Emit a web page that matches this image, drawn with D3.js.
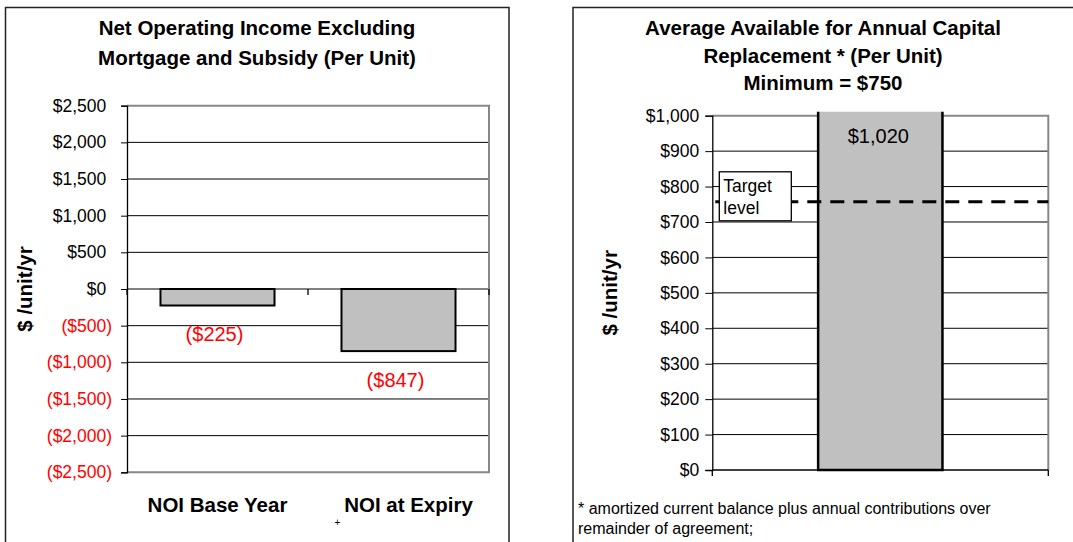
<!DOCTYPE html>
<html>
<head>
<meta charset="utf-8">
<script src="https://cdn.jsdelivr.net/npm/d3@7"></script>
<style>
  body { margin: 0; background: #fff; }
  svg { display: block; font-family: Arial, "Liberation Sans", sans-serif; }
</style>
</head>
<body>
<div id="chart"></div>
<script>
// left chart data
const noiCategories = ["NOI Base Year", "NOI at Expiry"];
const noiValues = [-225, -847];
const noiTicks = [-2500, -2000, -1500, -1000, -500, 0, 500, 1000, 1500, 2000, 2500];

// right chart data
const capCategories = ["Capital Replacement"];
const capValues = [1020];
const capTicks = [0, 100, 200, 300, 400, 500, 600, 700, 800, 900, 1000];
const targetLevel = 757;

const FONT = 'Arial, "Liberation Sans", sans-serif';
const fmtNum = d3.format(",");
const money = v => v < 0 ? "($" + fmtNum(-v) + ")" : "$" + fmtNum(v);

const svg = d3.select("#chart").append("svg")
    .attr("width", 1073)
    .attr("height", 542);

// panel frames
svg.append("rect")
    .attr("x", 5.5).attr("y", 7.5)
    .attr("width", 503.5).attr("height", 560)
    .attr("fill", "none").attr("stroke", "#222").attr("stroke-width", 1.5);
svg.append("rect")
    .attr("x", 573).attr("y", 7.5)
    .attr("width", 530).attr("height", 560)
    .attr("fill", "none").attr("stroke", "#222").attr("stroke-width", 1.5);

// ---------- left chart ----------
const L = { left: 127, right: 489, top: 105.7, bottom: 472.3 };
const yL = d3.scaleLinear().domain([-2500, 2500]).range([L.bottom, L.top]);
const xL = d3.scaleBand().domain(noiCategories).range([L.left, L.right])
    .paddingInner(0.37).paddingOuter(0.185);
const noiData = noiCategories.map((c, i) => ({ cat: c, value: noiValues[i] }));

const gl = svg.append("g");

// title
gl.append("text")
    .attr("text-anchor", "middle").attr("font-weight", "bold").attr("font-size", 20.5)
    .selectAll("tspan")
    .data(["Net Operating Income Excluding", "Mortgage and Subsidy (Per Unit)"])
    .join("tspan")
      .attr("x", 257)
      .attr("y", (d, i) => 34.5 + i * 30)
      .text(d => d);

// gridlines
gl.append("g")
  .selectAll("line")
  .data(noiTicks.filter(t => t > -2500 && t < 2500))
  .join("line")
    .attr("x1", L.left).attr("x2", L.right)
    .attr("y1", d => yL(d)).attr("y2", d => yL(d))
    .attr("stroke", "#000").attr("stroke-width", 1);

// plot frame (gray)
gl.append("path")
    .attr("d", `M${L.left},${L.top}H${L.right}V${L.bottom}H${L.left}`)
    .attr("fill", "none").attr("stroke", "#888").attr("stroke-width", 2);

// bars
gl.append("g")
  .selectAll("rect")
  .data(noiData)
  .join("rect")
    .attr("x", d => xL(d.cat))
    .attr("width", xL.bandwidth())
    .attr("y", d => yL(Math.max(0, d.value)))
    .attr("height", d => Math.abs(yL(d.value) - yL(0)))
    .attr("fill", "#c0c0c0")
    .attr("stroke", "#000")
    .attr("stroke-width", 2);

// y axis
const axL = gl.append("g")
    .attr("transform", `translate(${L.left},0)`)
    .call(d3.axisLeft(yL).tickValues(noiTicks).tickSize(6).tickPadding(9).tickFormat(money));
axL.attr("font-family", FONT).attr("font-size", 17.5);
axL.select(".domain").attr("stroke", "#000").attr("stroke-width", 1.3);
axL.selectAll(".tick line").attr("stroke", "#000");
axL.selectAll(".tick text")
    .attr("fill", d => d < 0 ? "#ff0000" : "#000")
    .attr("dx", d => d < 0 ? 0 : -5.8);

// x axis ticks at category boundaries on the zero line
const boundsL = d3.range(noiCategories.length + 1).map(i => L.left + i * xL.step());
gl.append("g")
  .selectAll("line")
  .data(boundsL)
  .join("line")
    .attr("x1", d => d).attr("x2", d => d)
    .attr("y1", yL(0)).attr("y2", yL(0) + 6)
    .attr("stroke", "#000").attr("stroke-width", 1.3);

// data labels
gl.append("g")
  .selectAll("text")
  .data(noiData)
  .join("text")
    .attr("x", d => xL(d.cat) + xL.bandwidth() / 2 - 3)
    .attr("y", d => yL(d.value) + 36)
    .attr("text-anchor", "middle")
    .attr("font-size", 20)
    .attr("fill", "#ff0000")
    .text(d => money(d.value));

// category labels
const catShift = [0, 10];
gl.append("g")
  .selectAll("text")
  .data(noiCategories)
  .join("text")
    .attr("x", (d, i) => xL(d) + xL.bandwidth() / 2 + catShift[i])
    .attr("y", 512)
    .attr("text-anchor", "middle")
    .attr("font-weight", "bold")
    .attr("font-size", 20.5)
    .text(d => d);

gl.append("text")
    .attr("x", xL("NOI at Expiry") - 4)
    .attr("y", 526)
    .attr("text-anchor", "middle")
    .attr("font-size", 10)
    .text("+");

// axis title
gl.append("text")
    .attr("transform", `translate(32,${(L.top + L.bottom) / 2}) rotate(-90)`)
    .attr("text-anchor", "middle")
    .attr("font-weight", "bold")
    .attr("font-size", 20.5)
    .text("$ /unit/yr");

// ---------- right chart ----------
const R = { left: 712.3, right: 1048.3, top: 115.7, bottom: 470 };
const yR = d3.scaleLinear().domain([0, 1000]).range([R.bottom, R.top]);
const xR = d3.scaleBand().domain(capCategories).range([R.left, R.right])
    .paddingInner(0.63).paddingOuter(0.315);
const capData = capCategories.map((c, i) => ({ cat: c, value: capValues[i] }));

const gr = svg.append("g");

gr.append("text")
    .attr("text-anchor", "middle").attr("font-weight", "bold").attr("font-size", 20.5)
    .selectAll("tspan")
    .data(["Average Available for Annual Capital", "Replacement * (Per Unit)", "Minimum = $750"])
    .join("tspan")
      .attr("x", 823)
      .attr("y", (d, i) => 35 + i * 27.5)
      .text(d => d);

gr.append("g")
  .selectAll("line")
  .data(capTicks.filter(t => t > 0 && t < 1000))
  .join("line")
    .attr("x1", R.left).attr("x2", R.right)
    .attr("y1", d => yR(d)).attr("y2", d => yR(d))
    .attr("stroke", "#000").attr("stroke-width", 1);

gr.append("path")
    .attr("d", `M${R.left},${R.top}H${R.right}V${R.bottom}`)
    .attr("fill", "none").attr("stroke", "#888").attr("stroke-width", 2);

svg.append("defs").append("clipPath").attr("id", "capClip")
  .append("rect")
    .attr("x", R.left).attr("y", R.top - 4)
    .attr("width", R.right - R.left).attr("height", R.bottom - R.top + 10);

gr.append("g")
    .attr("clip-path", "url(#capClip)")
  .selectAll("rect")
  .data(capData)
  .join("rect")
    .attr("x", d => xR(d.cat))
    .attr("width", xR.bandwidth())
    .attr("y", d => yR(d.value))
    .attr("height", d => yR(0) - yR(d.value))
    .attr("fill", "#c0c0c0")
    .attr("stroke", "#000")
    .attr("stroke-width", 2.5);

const axR = gr.append("g")
    .attr("transform", `translate(${R.left},0)`)
    .call(d3.axisLeft(yR).tickValues(capTicks).tickSize(7).tickPadding(6).tickFormat(money));
axR.attr("font-family", FONT).attr("font-size", 17.5);
axR.select(".domain").attr("stroke", "#000").attr("stroke-width", 1.3);
axR.selectAll(".tick line").attr("stroke", "#000");
axR.selectAll(".tick text").attr("fill", "#000");

// zero line + boundary ticks
gr.append("line")
    .attr("x1", R.left).attr("x2", R.right)
    .attr("y1", yR(0)).attr("y2", yR(0))
    .attr("stroke", "#000").attr("stroke-width", 1.5);
const boundsR = d3.range(capCategories.length + 1).map(i => R.left + i * xR.step());
gr.append("g")
  .selectAll("line")
  .data(boundsR)
  .join("line")
    .attr("x1", d => d).attr("x2", d => d)
    .attr("y1", yR(0)).attr("y2", yR(0) + 6)
    .attr("stroke", "#000").attr("stroke-width", 1.3);

// data label
gr.append("g")
  .selectAll("text")
  .data(capData)
  .join("text")
    .attr("x", d => xR(d.cat) + xR.bandwidth() / 2 - 2)
    .attr("y", d => yR(d.value) + 34)
    .attr("text-anchor", "middle")
    .attr("font-size", 20)
    .attr("fill", "#000")
    .text(d => money(d.value));

// target line
gr.append("line")
    .attr("x1", R.left + 3).attr("x2", R.right)
    .attr("y1", yR(targetLevel)).attr("y2", yR(targetLevel))
    .attr("stroke", "#000").attr("stroke-width", 3)
    .attr("stroke-dasharray", "14,9");

// target label box
const tY = yR(targetLevel);
gr.append("rect")
    .attr("x", R.left + 7).attr("y", tY - 30)
    .attr("width", 72).attr("height", 49)
    .attr("fill", "#fff").attr("stroke", "#000").attr("stroke-width", 1.3);
gr.append("text")
    .attr("font-size", 17.5)
    .selectAll("tspan")
    .data(["Target", "level"])
    .join("tspan")
      .attr("x", R.left + 11)
      .attr("y", (d, i) => tY - 10 + i * 22)
      .text(d => d);

gr.append("text")
    .attr("transform", `translate(617,${(R.top + R.bottom) / 2}) rotate(-90)`)
    .attr("text-anchor", "middle")
    .attr("font-weight", "bold")
    .attr("font-size", 20.5)
    .text("$ /unit/yr");

// footnote
gr.append("text")
    .attr("font-size", 16)
    .selectAll("tspan")
    .data(["* amortized current balance plus annual contributions over", "remainder of agreement;"])
    .join("tspan")
      .attr("x", 578)
      .attr("y", (d, i) => 513.5 + i * 20.5)
      .text(d => d);
</script>
</body>
</html>
